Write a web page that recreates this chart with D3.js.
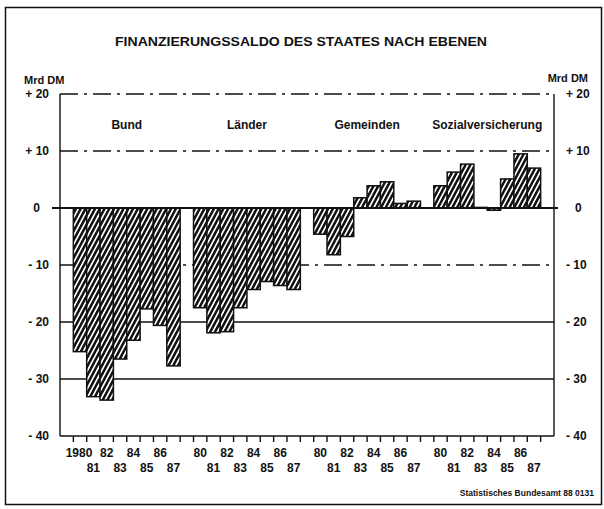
<!DOCTYPE html>
<html>
<head>
<meta charset="utf-8">
<script src="https://cdn.jsdelivr.net/npm/d3@7"></script>
<style>
  body { margin: 0; background: #fff; }
  text { font-family: "Liberation Sans", Arial, sans-serif; font-weight: bold; fill: #111; }
</style>
</head>
<body>
<div class="chart"></div>
<script>
// Daten (Mrd DM)
const groups = ["Bund", "Länder", "Gemeinden", "Sozialversicherung"];
const years = ["80", "81", "82", "83", "84", "85", "86", "87"];
const bund = [-25.2, -33.1, -33.7, -26.5, -23.2, -17.7, -20.6, -27.7];
const laender = [-17.5, -21.9, -21.7, -17.5, -14.3, -12.9, -13.6, -14.3];
const gemeinden = [-4.6, -8.2, -5.0, 1.8, 3.9, 4.6, 0.8, 1.2];
const sozial = [3.9, 6.3, 7.7, 0.1, -0.4, 5.1, 9.5, 7.0];
const yTicks = [20, 10, 0, -10, -20, -30, -40];
const yTickLabels = ["+ 20", "+ 10", "0", "- 10", "- 20", "- 30", "- 40"];

const series = [bund, laender, gemeinden, sozial];

const W = 604, H = 509;
const plot = {left: 60, right: 554, top: 94, bottom: 436};

const svg = d3.select(".chart").append("svg")
  .attr("width", W).attr("height", H);

// Schraffur (weißer Grund, schwarze Schrägstriche)
const defs = svg.append("defs");
const hatch = defs.append("pattern")
  .attr("id", "hatch")
  .attr("patternUnits", "userSpaceOnUse")
  .attr("width", 4.2).attr("height", 4.2)
  .attr("patternTransform", "rotate(28)");
hatch.append("rect")
  .attr("width", 4.2).attr("height", 4.2)
  .attr("fill", "#fff");
hatch.append("rect")
  .attr("width", 2.5).attr("height", 4.2)
  .attr("fill", "#111");

// Rahmen
svg.append("rect")
  .attr("x", 5.5).attr("y", 7.5)
  .attr("width", 596).attr("height", 497)
  .attr("fill", "none").attr("stroke", "#111").attr("stroke-width", 1.5);

// Slots: Lücke + 8 Jahre je Gruppe, plus Lücke am Ende
const slots = [];
groups.forEach((g, gi) => {
  slots.push("gap" + gi);
  years.forEach(yr => slots.push(g + "-" + yr));
});
slots.push("gapEnd");

const x = d3.scaleBand().domain(slots).range([plot.left, plot.right]).padding(0);
const y = d3.scaleLinear().domain([-40, 20]).range([plot.bottom, plot.top]);

const barData = [];
groups.forEach((g, gi) => {
  years.forEach((yr, i) => barData.push({group: g, year: yr, key: g + "-" + yr, value: series[gi][i], idx: i, gi}));
});

// Gitterlinien
const dashed = [20, 10, -10];
svg.append("g").selectAll("line")
  .data(yTicks.filter(v => v !== -40 && v !== 0))
  .join("line")
    .attr("x1", plot.left).attr("x2", plot.right)
    .attr("y1", d => y(d)).attr("y2", d => y(d))
    .attr("stroke", "#111")
    .attr("stroke-width", d => dashed.includes(d) ? 1.3 : 1.4)
    .attr("stroke-dasharray", d => dashed.includes(d) ? "18,6,3,6" : null);

// Balken
svg.append("g").selectAll("rect")
  .data(barData)
  .join("rect")
    .attr("x", d => x(d.key))
    .attr("width", x.bandwidth())
    .attr("y", d => y(Math.max(0, d.value)))
    .attr("height", d => Math.abs(y(d.value) - y(0)))
    .attr("fill", "url(#hatch)")
    .attr("stroke", "#111")
    .attr("stroke-width", 1.5);

// Nulllinie
svg.append("line")
  .attr("x1", plot.left - 8).attr("x2", plot.right + 4)
  .attr("y1", y(0)).attr("y2", y(0))
  .attr("stroke", "#111").attr("stroke-width", 2.2);

// Achsen links / rechts / unten
[plot.left, plot.right].forEach(px => {
  svg.append("line")
    .attr("x1", px).attr("x2", px)
    .attr("y1", plot.top).attr("y2", plot.bottom)
    .attr("stroke", "#111").attr("stroke-width", 1.4);
});
svg.append("line")
  .attr("x1", plot.left).attr("x2", plot.right)
  .attr("y1", plot.bottom).attr("y2", plot.bottom)
  .attr("stroke", "#111").attr("stroke-width", 1.6);

// Striche unten an den Balkenkanten
const tickXs = [];
groups.forEach(g => {
  years.forEach(yr => tickXs.push(x(g + "-" + yr)));
  tickXs.push(x(g + "-87") + x.bandwidth());
});
svg.append("g").selectAll("line")
  .data(tickXs)
  .join("line")
    .attr("x1", d => d).attr("x2", d => d)
    .attr("y1", plot.bottom).attr("y2", plot.bottom + 6)
    .attr("stroke", "#111").attr("stroke-width", 1.4);

// Jahresbeschriftung
svg.append("g").selectAll("text")
  .data(barData)
  .join("text")
    .attr("x", d => x(d.key) + x.bandwidth() / 2 + (d.gi === 0 && d.idx === 0 ? -1 : 0))
    .attr("y", d => d.idx % 2 === 0 ? 457 : 472)
    .attr("text-anchor", "middle")
    .style("font-size", "12px")
    .text(d => d.gi === 0 && d.idx === 0 ? "1980" : d.year);

// y-Achsen-Beschriftung links
const yAxisL = d3.axisLeft(y).tickValues(yTicks).tickSize(0)
  .tickFormat((d, i) => yTickLabels[i]);
svg.append("g")
  .attr("transform", `translate(${plot.left - 11},0)`)
  .call(yAxisL)
  .call(g => g.select(".domain").remove())
  .call(g => g.selectAll("text")
    .attr("x", d => d === 0 ? -9 : 0)
    .style("font-size", "12px")
    .style("font-family", "'Liberation Sans', Arial, sans-serif")
    .style("font-weight", "bold")
    .attr("fill", "#111"));

// y-Achsen-Beschriftung rechts
const yAxisR = d3.axisRight(y).tickValues(yTicks).tickSize(0)
  .tickFormat((d, i) => yTickLabels[i]);
svg.append("g")
  .attr("transform", `translate(${plot.right + 12},0)`)
  .call(yAxisR)
  .call(g => g.select(".domain").remove())
  .call(g => g.selectAll("text")
    .attr("x", d => d === 0 ? 9 : 0)
    .style("font-size", "12px")
    .style("font-family", "'Liberation Sans', Arial, sans-serif")
    .style("font-weight", "bold")
    .attr("fill", "#111"));

// Einheiten
svg.append("text").attr("x", 24).attr("y", 84).style("font-size", "11px").text("Mrd DM");
svg.append("text").attr("x", 588).attr("y", 82).attr("text-anchor", "end").style("font-size", "11px").text("Mrd DM");

// Gruppenbeschriftung
svg.append("g").selectAll("text")
  .data(groups)
  .join("text")
    .attr("x", g => (x(g + "-80") + x(g + "-87") + x.bandwidth()) / 2)
    .attr("y", 129)
    .attr("text-anchor", "middle")
    .style("font-size", "12px")
    .text(g => g);

// Titel
svg.append("text")
  .attr("x", 301).attr("y", 46)
  .attr("text-anchor", "middle")
  .attr("textLength", 372)
  .attr("lengthAdjust", "spacingAndGlyphs")
  .style("font-size", "13px")
  .text("FINANZIERUNGSSALDO DES STAATES NACH EBENEN");

// Quelle
svg.append("text")
  .attr("x", 594).attr("y", 496)
  .attr("text-anchor", "end")
  .style("font-size", "8.5px")
  .text("Statistisches Bundesamt 88 0131");
</script>
</body>
</html>
